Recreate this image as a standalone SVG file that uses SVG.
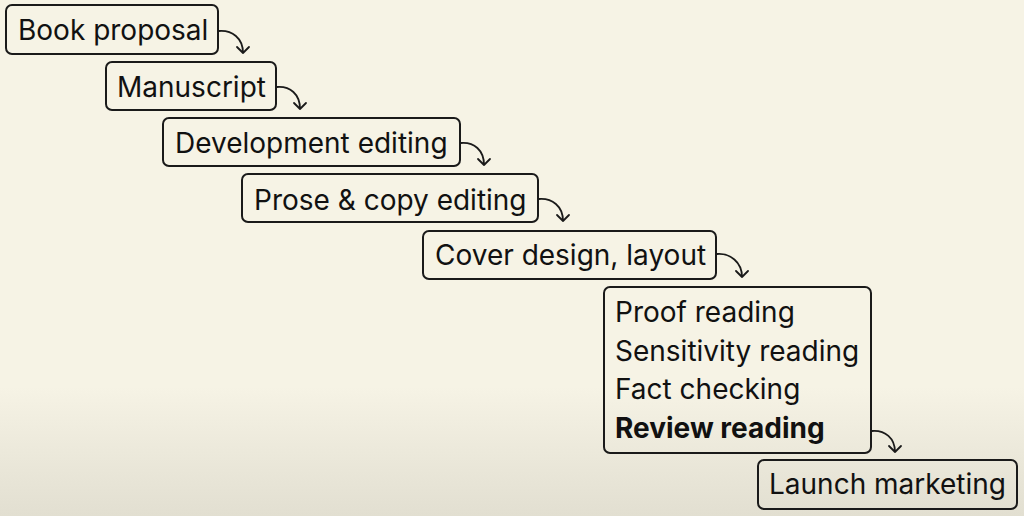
<svg xmlns="http://www.w3.org/2000/svg" width="1024" height="516" viewBox="0 0 1024 516">
<defs>
<linearGradient id="bg" x1="0" y1="0" x2="0" y2="1">
<stop offset="0" stop-color="#f6f3e5"/>
<stop offset="0.75" stop-color="#f6f3e5"/>
<stop offset="1" stop-color="#e2dfd1"/>
</linearGradient>
<style>
.box{fill:none;stroke:#1a1a1a;stroke-width:2}
.t{font-family:Inter,"Liberation Sans",sans-serif;font-size:28px;fill:#111}
.b{font-weight:bold}
.c{fill:none;stroke:#1a1a1a;stroke-width:1.8;stroke-linecap:round;stroke-linejoin:round}
</style>
</defs>
<rect width="1024" height="516" fill="url(#bg)"/>
<g id="n1"><rect class="box" x="6" y="5" width="212" height="49" rx="6"/><text class="t" x="18" y="40">Book proposal</text></g>
<g id="n2"><rect class="box" x="106" y="62" width="170" height="48" rx="6"/><text class="t" x="117" y="97">Manuscript</text></g>
<g id="n3"><rect class="box" x="163" y="118" width="297" height="48" rx="6"/><text class="t" x="175" y="153">Development editing</text></g>
<g id="n4"><rect class="box" x="242" y="174" width="296" height="48" rx="6"/><text class="t" x="254" y="210">Prose &amp; copy editing</text></g>
<g id="n5"><rect class="box" x="423" y="231" width="293" height="48" rx="6"/><text class="t" x="435" y="265">Cover design, layout</text></g>
<g id="n6"><rect class="box" x="604" y="287" width="267" height="166" rx="6"/>
<text class="t" x="615" y="322">Proof reading</text>
<text class="t" x="615" y="361">Sensitivity reading</text>
<text class="t" x="615" y="399">Fact checking</text>
<text class="t b" x="615" y="438">Review reading</text></g>
<g id="n7"><rect class="box" x="758" y="460" width="259" height="49" rx="6"/><text class="t" x="769" y="494">Launch marketing</text></g>
<g id="connectors">
<path class="c" d="M219 31 C232 30 243 38 243 53 M237 47 L243 53 L249 47"/>
<path class="c" d="M277 87 C290 86 300 94 300 109 M294 103 L300 109 L306 103"/>
<path class="c" d="M461 143 C474 142 484 150 484 165 M478 159 L484 165 L490 159"/>
<path class="c" d="M539 199 C552 198 563 206 563 221 M557 215 L563 221 L569 215"/>
<path class="c" d="M717 254 C730 253 742 262 742 277 M736 271 L742 277 L748 271"/>
<path class="c" d="M872 431 C885 430 895 438 895 452 M889 446 L895 452 L901 446"/>
</g>
</svg>
